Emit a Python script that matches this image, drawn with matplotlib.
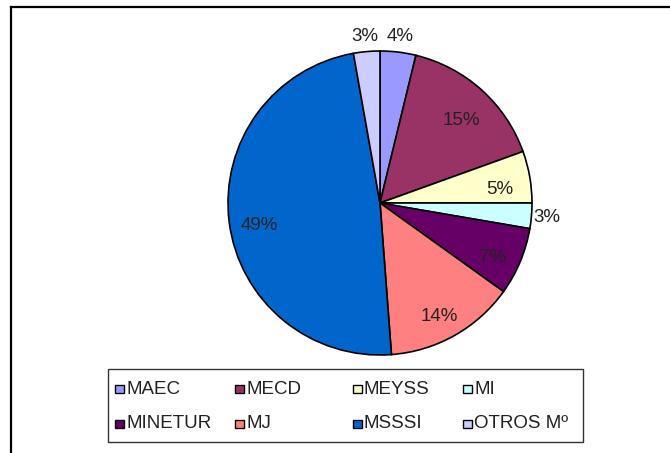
import numpy as np
import matplotlib
matplotlib.use("Agg")
import matplotlib.pyplot as plt
from matplotlib.lines import Line2D
from matplotlib.patches import Rectangle

plt.rcParams["font.family"] = ["Liberation Sans", "DejaVu Sans"]

categories = ["MAEC", "MECD", "MEYSS", "MI", "MINETUR", "MJ", "MSSSI", "OTROS Mº"]
shares = [3.8, 15.7, 5.5, 2.7, 7.2, 13.9, 48.4, 2.8]
pct_labels = ["4%", "15%", "5%", "3%", "7%", "14%", "49%", "3%"]
colors = ["#9999FF", "#993366", "#FFFFCC", "#CCFFFF",
          "#660066", "#FF8080", "#0066CC", "#CCCCFF"]

W, H = 670, 453
FONT_SIZE = 13.5


def fx(px):
    return px / W


def fy(py):
    return 1 - py / H


fig = plt.figure(figsize=(W / 100, H / 100), dpi=100)

# outer frame (only left and top edges visible in the crop)
fig.add_artist(Line2D([fx(11), fx(11)], [fy(7), 0], color="black", lw=1.6))
fig.add_artist(Line2D([fx(11), 1], [fy(7), fy(7)], color="black", lw=1.6))

# pie: centre (380, 203) px, radius 152 px
cx, cy, r = 380, 203, 152
ax = fig.add_axes([fx(cx - r), fy(cy + r), 2 * r / W, 2 * r / H])
wedges, _ = ax.pie(shares, colors=colors, startangle=90, counterclock=False,
                   wedgeprops=dict(edgecolor="black", linewidth=1.2))
ax.set_xlim(-1, 1)
ax.set_ylim(-1, 1)
ax.set_aspect("equal")
ax.axis("off")

for w, share, lab in zip(wedges, shares, pct_labels):
    mid = np.deg2rad((w.theta1 + w.theta2) / 2)
    if share < 4.5:
        x, y = 1.1 * np.cos(mid), 1.1 * np.sin(mid)
    else:
        x, y = 0.8 * np.cos(mid), 0.8 * np.sin(mid) - 0.05
    ax.text(x, y, lab, ha="center", va="center", fontsize=FONT_SIZE,
            color="#222222")

# legend box drawn by hand so the columns are evenly spaced like the original
fig.add_artist(Rectangle((fx(108), fy(442)), (583 - 108) / W, (442 - 369) / H,
                         transform=fig.transFigure, facecolor="white",
                         edgecolor="#333333", lw=1.0))
col_x = [115, 235, 353, 463]
row_y = [389, 424]
for i, (name, c) in enumerate(zip(categories, colors)):
    x = col_x[i % 4]
    y = row_y[i // 4]
    fig.add_artist(Rectangle((fx(x), fy(y + 4)), 9 / W, 8 / H,
                             transform=fig.transFigure, facecolor=c,
                             edgecolor="black", lw=1.0))
    fig.text(fx(x + 11), fy(y), name, ha="left", va="center",
             fontsize=FONT_SIZE, color="#222222")

fig.savefig("out.png", dpi=100)
